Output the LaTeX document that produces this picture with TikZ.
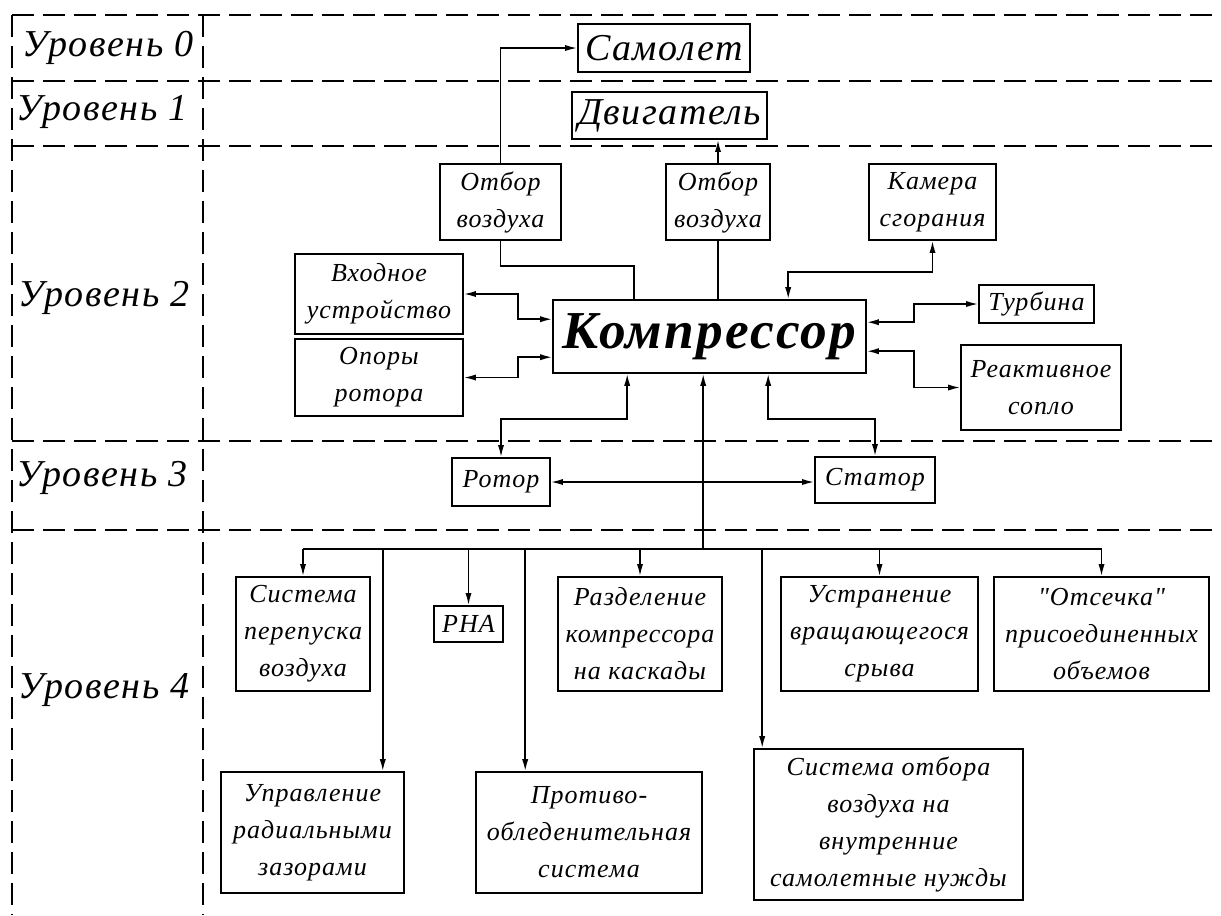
\documentclass[tikz,border=0pt]{standalone}
\usepackage{fontspec}
\setmainfont{Liberation Serif}[LetterSpace=4, Ligatures=TeXOff]
\usetikzlibrary{arrows.meta,calc}

\tikzset{
  grid/.style={line width=1.2pt, dash pattern=on 16.5pt off 6.75pt},
  blk/.style 2 args={draw, line width=1.2pt,
    minimum width=#1*0.75pt, minimum height=#2*0.75pt,
    inner sep=1pt, align=center,
    font=\fontsize{19.5}{27.75}\selectfont\itshape},
  lvl/.style={font=\fontsize{28.5}{34}\selectfont\itshape},
  bigtext/.style={font=\fontsize{28.5}{34}\selectfont\itshape},
  wire/.style={line width=1.2pt},
}

\begin{document}
\begin{tikzpicture}[x=0.75pt,y=-0.75pt,>={Latex[length=9pt,width=4.6pt]}]
\useasboundingbox (0,0) rectangle (1221,915);

% level grid
\foreach \yy in {15,81,146,441,530}
  \draw[grid] (12,\yy) -- (1221,\yy);
\draw[grid] (12,15) -- (12,915);
\draw[grid] (203,15) -- (203,915);

% level captions
\node[lvl] (l0) at (108,48)  {Уровень 0};
\node[lvl] (l1) at (102,112) {Уровень 1};
\node[lvl] (l2) at (104,298) {Уровень 2};
\node[lvl] (l3) at (102,478) {Уровень 3};
\node[lvl] (l4) at (104,690) {Уровень 4};

% levels 0 and 1
\node[blk={172}{48}, bigtext] (samolet) at (664,48) {Самолет};
\node[blk={195}{47}, bigtext] (dvig) at (669.5,115.5) {Двигатель};

% level 2
\node[blk={121}{76}] (otb1) at (500.5,202) {Отбор\\воздуха};
\node[blk={104}{76}] (otb2) at (718,202) {Отбор\\воздуха};
\node[blk={127}{76}] (kamera) at (932.5,202) {Камера\\сгорания};
\node[blk={168}{80}] (vhod) at (379,294) {Входное\\устройство};
\node[blk={168}{77}] (opory) at (379,377.5) {Опоры\\ротора};
\node[blk={313}{73}, font=\fontsize{40}{48}\selectfont\bfseries\itshape] (komp) at (709.5,336.5) {Компрессор};
\node[blk={115}{38}] (turb) at (1036.5,304) {Турбина};
\node[blk={160}{85}] (reakt) at (1041,387.5) {Реактивное\\сопло};

% level 3
\node[blk={98}{48}] (rotor) at (501,482) {Ротор};
\node[blk={120}{46}] (stator) at (875,480) {Статор};

% level 4
\node[blk={134}{114}] (sys1) at (303,634) {Система\\перепуска\\воздуха};
\node[blk={69}{36}] (rna) at (468.5,624) {РНА};
\node[blk={164}{114}] (razd) at (640,634) {Разделение\\компрессора\\на каскады};
\node[blk={197}{114}] (ustr) at (879.5,634) {Устранение\\вращающегося\\срыва};
\node[blk={215}{114}] (ots) at (1101.5,634) {"Отсечка"\\присоединенных\\объемов};
\node[blk={183}{121}] (upr) at (312.5,832.5) {Управление\\радиальными\\зазорами};
\node[blk={226}{121}] (prot) at (589,832.5) {Противо-\\обледенительная\\система};
\node[blk={269}{151}] (sysotb) at (888.5,824.5) {Система отбора\\воздуха на\\внутренние\\самолетные нужды};

% air bleed and engine links
\draw[wire,->] (otb1.north) |- (samolet.west);
\draw[wire,->] (otb2.north) -- (dvig.south -| otb2.north);
\draw[wire] (otb1.south) |- ($(komp.north west)+(82,-33)$) -- ($(komp.north west)+(82,0)$);
\draw[wire] (otb2.south) -- (otb2.south |- komp.north);

% compressor neighbours on level 2
\draw[wire,<->] (kamera.south) -- ++(0,31) -| ($(komp.north west)+(236,0)$);
\draw[wire,<->] ($(komp.north east)+(0,23)$) -- ++(47,0) |- (turb.west);
\draw[wire,<->] ($(komp.north east)+(0,52)$) -- ++(47,0) |- (reakt.west);
\draw[wire,<->] ($(komp.north west)+(0,20)$) -- ++(-34,0) |- (vhod.east);
\draw[wire,<->] ($(komp.north west)+(0,58)$) -- ++(-34,0) |- (opory.east);

% rotor and stator
\draw[wire,<->] ($(komp.south west)+(75,0)$) -- ++(0,45) -| (rotor.north);
\draw[wire,<->] ($(komp.south west)+(216,0)$) -- ++(0,45) -| (stator.north);
\draw[wire,<->] (rotor.east) -- (rotor.east -| stator.west);

% level 4 bus
\draw[wire,<-] ($(komp.south west)+(151,0)$) -- ++(0,175) coordinate (bus);
\draw[wire] (sys1.north |- bus) -- (ots.north |- bus);
\coordinate (uprdrop) at ($(upr.north east)+(-22,0)$);
\coordinate (protdrop) at ($(prot.north west)+(50,0)$);
\coordinate (otbdrop) at ($(sysotb.north west)+(9,0)$);
\draw[wire,->] (sys1.north |- bus) -- (sys1.north);
\draw[wire,->] (uprdrop |- bus) -- (uprdrop);
\draw[wire,->] (rna.north |- bus) -- (rna.north);
\draw[wire,->] (protdrop |- bus) -- (protdrop);
\draw[wire,->] (razd.north |- bus) -- (razd.north);
\draw[wire,->] (otbdrop |- bus) -- (otbdrop);
\draw[wire,->] (ustr.north |- bus) -- (ustr.north);
\draw[wire,->] (ots.north |- bus) -- (ots.north);
\end{tikzpicture}
\end{document}
